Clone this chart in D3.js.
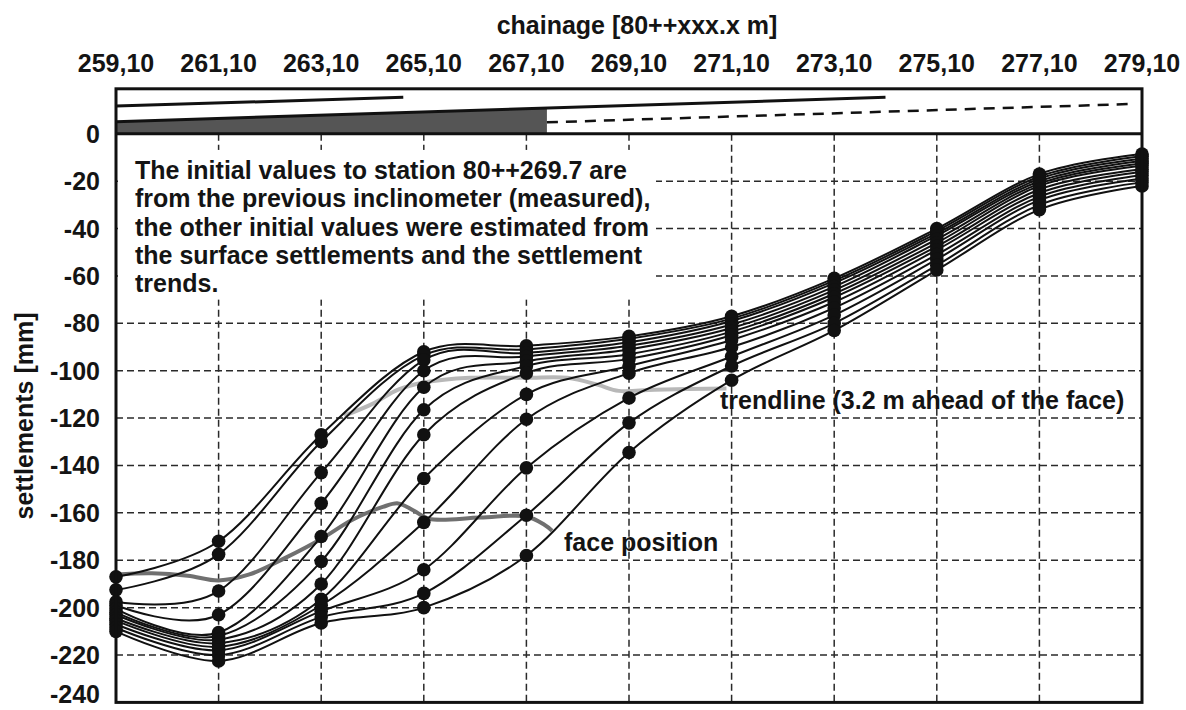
<!DOCTYPE html>
<html>
<head>
<meta charset="utf-8">
<script src="https://cdn.jsdelivr.net/npm/d3@7"></script>
<style>
  body { margin: 0; background: #fff; }
  svg text { font-family: "Liberation Sans", Arial, sans-serif; font-weight: bold; fill: #141414; }
</style>
</head>
<body>
<div id="chart"></div>
<script>
// stations of the inclinometer readings (chainage 80++xxx.x m)
const stations = [259.1, 261.1, 263.1, 265.1, 267.1, 269.1, 271.1, 273.1, 275.1, 277.1, 279.1];
const chainageLabels = ["259,10", "261,10", "263,10", "265,10", "267,10", "269,10", "271,10", "273,10", "275,10", "277,10", "279,10"];
const settlementTicks = [0, -20, -40, -60, -80, -100, -120, -140, -160, -180, -200, -220, -240];

// settlement lines [mm], one per reading, values at the stations above
const readings = [
  [-187, -172, -127, -92, -89.5, -85.5, -77, -61, -40, -17, -8.5],
  [-192.5, -177.5, -130, -93.5, -91, -86.5, -78, -62, -41, -18, -9.5],
  [-197.5, -193, -143, -95.5, -92.5, -88, -79, -63, -42, -19, -10.5],
  [-199, -203, -156, -100, -94, -89.5, -80.5, -64.5, -43, -20, -11.5],
  [-200.5, -210.5, -170, -107, -96, -91, -82, -66, -44.5, -21, -12.5],
  [-202, -212, -180.5, -116.5, -98, -93, -83.5, -67.5, -46, -22, -13.5],
  [-203, -213.5, -190, -127, -101, -95, -85, -69, -47.5, -23.5, -15],
  [-204.5, -215, -196.5, -145.5, -110, -98, -87, -71, -49, -25, -16],
  [-205.5, -216.5, -199, -164, -120.5, -101, -90, -73.5, -51, -26.5, -17.5],
  [-207, -218, -201.5, -184, -141, -111.5, -94, -76.5, -53, -28, -19],
  [-208.5, -220, -204, -194, -161, -122, -98, -80, -55.5, -30, -20.5],
  [-210, -222.5, -206.5, -200, -178, -134.5, -104, -83, -57.5, -32, -22]
];

// [chainage, settlement]
const trendline = [[263.55, -119], [264.1, -114], [264.6, -108], [265.1, -105], [266.0, -103], [267.1, -103],
  [267.9, -103], [268.5, -106], [268.9, -108.5], [269.6, -108], [271.0, -107.5]];
const facePosition = [[259.1, -186], [259.8, -185.5], [260.5, -186.5], [261.1, -188.5], [261.7, -186], [262.4, -179],
  [263.1, -171], [263.7, -163], [264.3, -157.5], [264.6, -156], [264.9, -159], [265.2, -162.5], [266.2, -162],
  [267.1, -161.5], [267.45, -165], [267.6, -167.5]];

// excavation sketch in the top strip
const upperLine = [[259.1, 11.7], [264.7, 15.4]];
const middleLine = [[259.1, 5.1], [274.1, 15.4]];
const plannedLine = [[267.5, 4.85], [278.9, 12.6]];
const excavatedTo = 267.5;
const stripTop = 19;

const noteLines = [
  "The initial values to station 80++269.7 are",
  "from the previous inclinometer (measured),",
  "the other initial values were estimated from",
  "the surface settlements and the settlement",
  "trends."
];

const width = 1186, height = 710;
const svg = d3.select("#chart").append("svg").attr("width", width).attr("height", height);

const x = d3.scaleLinear().domain([259.1, 279.1]).range([116, 1142]);
const y = d3.scaleLinear().domain([-240, stripTop]).range([702.4, 88.8]);

// gridlines
const grid = svg.append("g").attr("stroke", "#2a2a2a").attr("stroke-width", 1.5).attr("stroke-dasharray", "7,4");
grid.selectAll("line.v").data(stations.slice(1, -1)).enter().append("line")
  .attr("x1", d => x(d)).attr("x2", d => x(d)).attr("y1", y(0)).attr("y2", y(-240));
grid.selectAll("line.h").data(settlementTicks.slice(1, -1)).enter().append("line")
  .attr("x1", x(259.1)).attr("x2", x(279.1)).attr("y1", d => y(d)).attr("y2", d => y(d));

// white box behind the note
svg.append("rect").attr("x", x(259.1) + 2).attr("y", y(-6.8)).attr("width", 538).attr("height", y(-70) - y(-6.8)).attr("fill", "#fff");

// top strip
const line = d3.line().x(d => x(d[0])).y(d => y(d[1]));
const midAt = c => middleLine[0][1] + (c - middleLine[0][0]) / (middleLine[1][0] - middleLine[0][0]) * (middleLine[1][1] - middleLine[0][1]);
svg.append("path")
  .attr("d", line([[259.1, 0], [259.1, midAt(259.1)], [excavatedTo, midAt(excavatedTo)], [excavatedTo, 0]]) + "Z")
  .attr("fill", "#555");
svg.append("path").attr("d", line(upperLine)).attr("stroke", "#111").attr("stroke-width", 3).attr("fill", "none");
svg.append("path").attr("d", line(middleLine)).attr("stroke", "#111").attr("stroke-width", 3).attr("fill", "none");
svg.append("path").attr("d", line(plannedLine)).attr("stroke", "#111").attr("stroke-width", 2.5)
  .attr("stroke-dasharray", "11,8").attr("fill", "none");

// gray guide lines
const smooth = d3.line().x(d => x(d[0])).y(d => y(d[1])).curve(d3.curveCatmullRom);
svg.append("path").attr("d", smooth(trendline)).attr("stroke", "#b8b8b8").attr("stroke-width", 4).attr("fill", "none");
svg.append("path").attr("d", smooth(facePosition)).attr("stroke", "#707070").attr("stroke-width", 4).attr("fill", "none");

// settlement lines
const curve = d3.line().x((d, i) => x(stations[i])).y(d => y(d)).curve(d3.curveCardinal.tension(0));
svg.append("g").selectAll("path").data(readings).enter().append("path")
  .attr("d", d => curve(d)).attr("stroke", "#111").attr("stroke-width", 2).attr("fill", "none");
const dots = svg.append("g").attr("fill", "#111");
readings.forEach(r => {
  dots.selectAll(null).data(r).enter().append("circle")
    .attr("cx", (d, i) => x(stations[i])).attr("cy", d => y(d)).attr("r", 6.8);
});

// frame
const frame = svg.append("g").attr("stroke", "#111").attr("stroke-width", 3).attr("fill", "none");
frame.append("rect").attr("x", x(259.1)).attr("y", y(stripTop)).attr("width", x(279.1) - x(259.1)).attr("height", y(-240) - y(stripTop));
frame.append("line").attr("x1", x(259.1)).attr("x2", x(279.1)).attr("y1", y(0)).attr("y2", y(0));

// axes labels
svg.append("g").selectAll("text").data(chainageLabels).enter().append("text")
  .attr("x", (d, i) => x(stations[i])).attr("y", 72).attr("text-anchor", "middle")
  .attr("font-size", 25).text(d => d);
svg.append("text").attr("x", 637).attr("y", 34).attr("text-anchor", "middle").attr("font-size", 25)
  .text("chainage [80++xxx.x m]");
svg.append("g").selectAll("text").data(settlementTicks).enter().append("text")
  .attr("x", 100).attr("y", d => Math.min(y(d) + 9, height - 7)).attr("text-anchor", "end").attr("font-size", 25).text(d => d);
svg.append("text").attr("transform", `translate(33,${416}) rotate(-90)`).attr("text-anchor", "middle")
  .attr("font-size", 25).text("settlements [mm]");

// annotations
svg.append("g").selectAll("text").data(noteLines).enter().append("text")
  .attr("x", 135).attr("y", (d, i) => 179 + i * 28.3).attr("font-size", 25).text(d => d);
svg.append("text").attr("x", 720).attr("y", 409).attr("font-size", 25).text("trendline (3.2 m ahead of the face)");
svg.append("text").attr("x", 564).attr("y", 551).attr("font-size", 25).text("face position");
</script>
</body>
</html>
